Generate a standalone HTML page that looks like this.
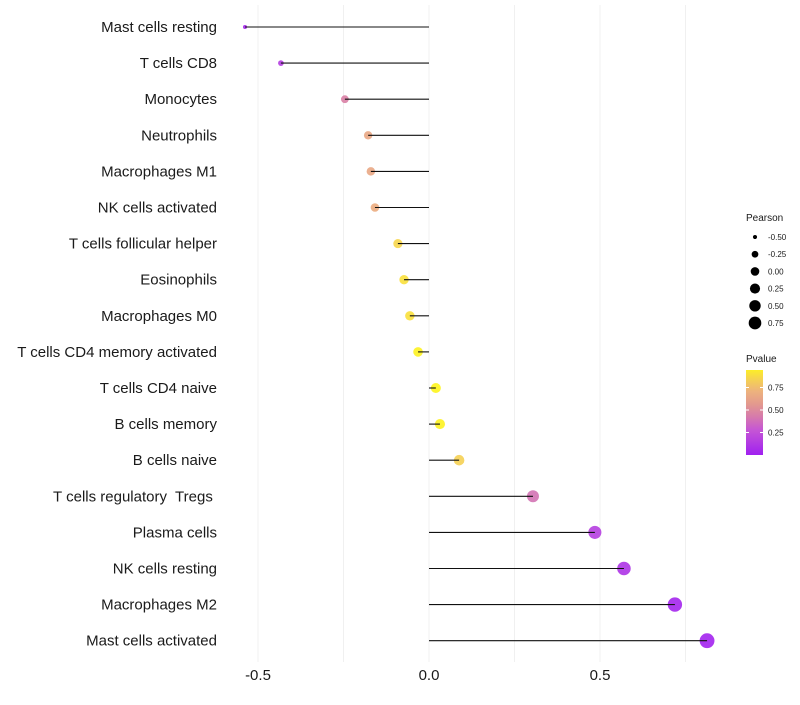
<!DOCTYPE html>
<html><head><meta charset="utf-8"><style>
body{margin:0;background:#fff;font-family:"Liberation Sans",sans-serif}
svg text{font-family:"Liberation Sans",sans-serif;white-space:pre}
</style></head><body>
<svg id="chart" width="800" height="700" xmlns="http://www.w3.org/2000/svg"></svg>
<script>
const categories=["Mast cells resting","T cells CD8","Monocytes","Neutrophils","Macrophages M1","NK cells activated","T cells follicular helper","Eosinophils","Macrophages M0","T cells CD4 memory activated","T cells CD4 naive","B cells memory","B cells naive","T cells regulatory  Tregs ","Plasma cells","NK cells resting","Macrophages M2","Mast cells activated"];
const pearson=[-0.538,-0.433,-0.246,-0.178,-0.170,-0.158,-0.091,-0.073,-0.056,-0.032,0.020,0.032,0.088,0.304,0.485,0.570,0.719,0.813];
const pvalue=[0.04,0.15,0.45,0.65,0.65,0.68,0.86,0.9,0.9,0.97,0.98,0.97,0.84,0.4,0.16,0.1,0.03,0.02];
const xTicks=[-0.5,0,0.5];
const xTickLabels=["-0.5","0.0","0.5"];
const sizeLegend=[-0.5,-0.25,0,0.25,0.5,0.75];
const sizeLegendLabels=["-0.50","-0.25","0.00","0.25","0.50","0.75"];
const pTicks=[0.25,0.5,0.75];

const NS="http://www.w3.org/2000/svg";
const svg=document.getElementById('chart');
const x=v=>429+v*342;
const y=i=>27+i*36.1;
const r=v=>Math.sqrt(Math.max(2.5,18.5+28.5*v));
const rp=v=>1.15*r(v);
function lerp(a,b,t){return a.map((c,i)=>Math.round(c+(b[i]-c)*t));}
const stops=[[0,[160,32,240]],[0.3,[200,90,210]],[0.5,[222,140,150]],[0.75,[240,185,120]],[1,[255,250,20]]];
function col(p){p=Math.max(0,Math.min(1,p));
 for(let k=1;k<stops.length;k++){if(p<=stops[k][0]){const a=stops[k-1],b=stops[k];return `rgb(${lerp(a[1],b[1],(p-a[0])/(b[0]-a[0]))})`;}}
 return 'rgb(255,250,20)';}
function el(t,a,p){const e=document.createElementNS(NS,t);for(const k in a)e.setAttribute(k,a[k]);(p||svg).appendChild(e);return e;}

for(let v=-0.5;v<=0.76;v+=0.25){
 const g=el('line',{x1:x(v),x2:x(v),y1:5,y2:662,stroke:'#f0f0f0','stroke-width':1});
 
 
}
xTicks.forEach((v,i)=>{
 const t=el('text',{x:x(v),y:680,'text-anchor':'middle','font-size':15,fill:'#1a1a1a'});t.textContent=xTickLabels[i];
 
 
});
categories.forEach((c,i)=>{
 const t=el('text',{x:217,y:y(i)+5,'text-anchor':'end','font-size':15,fill:'#1a1a1a'});t.textContent=c;
 
 
 const pt=el('circle',{cx:x(pearson[i]),cy:y(i),r:rp(pearson[i]),fill:col(pvalue[i]),'fill-opacity':0.9});
 
 
 const ln=el('line',{x1:x(0),x2:x(pearson[i]),y1:y(i),y2:y(i),stroke:'#111','stroke-width':1.1});
 
 
});
let tt=el('text',{x:746,y:221,'font-size':10,fill:'#1a1a1a'});tt.textContent='Pearson';


sizeLegend.forEach((v,i)=>{
 const cy=237+i*17.2;
 const c=el('circle',{cx:755,cy:cy,r:r(v),fill:'#000'});
 
 
 const t=el('text',{x:768,y:cy+3,'font-size':8,fill:'#1a1a1a'});t.textContent=sizeLegendLabels[i];
 
 
});
tt=el('text',{x:746,y:362,'font-size':10,fill:'#1a1a1a'});tt.textContent='Pvalue';


const defs=el('defs',{});const gr=el('linearGradient',{id:'pg',x1:0,y1:1,x2:0,y2:0},defs);
[0,0.15,0.3,0.45,0.6,0.75,0.9,1].forEach(o=>el('stop',{offset:o,'stop-color':col(o*0.95)},gr));
const bar=el('rect',{x:746,y:370,width:17,height:85,fill:'url(#pg)'});


const py=p=>455-p*90;
pTicks.forEach(p=>{
 el('line',{x1:746,x2:749,y1:py(p),y2:py(p),stroke:'#fff'});el('line',{x1:760,x2:763,y1:py(p),y2:py(p),stroke:'#fff'});
 const t=el('text',{x:768,y:py(p)+3,'font-size':8,fill:'#1a1a1a'});t.textContent=p.toFixed(2);
 
 
});
</script>
</body></html>
